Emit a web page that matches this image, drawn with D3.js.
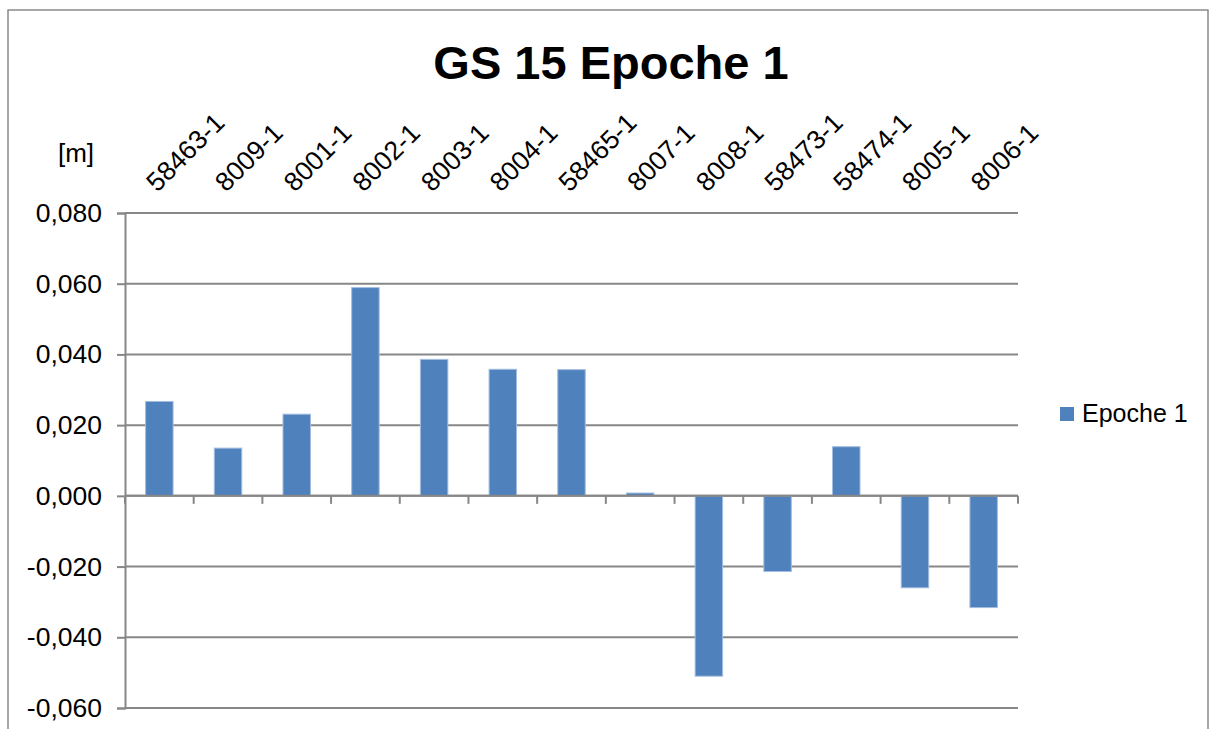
<!DOCTYPE html>
<html>
<head>
<meta charset="utf-8">
<script src="https://cdn.jsdelivr.net/npm/d3@7"></script>
<style>
  body { margin: 0; background: #fff; }
  svg { display: block; font-family: "Liberation Sans", Arial, sans-serif; }
</style>
</head>
<body>
<svg id="chart"></svg>
<script>
// chart data
const categories = ["58463-1", "8009-1", "8001-1", "8002-1", "8003-1", "8004-1", "58465-1",
    "8007-1", "8008-1", "58473-1", "58474-1", "8005-1", "8006-1"];
const epoche1 = [0.0267, 0.0135, 0.0231, 0.0589, 0.0386, 0.0358, 0.0357,
    0.0008, -0.0510, -0.0214, 0.0139, -0.0260, -0.0316];
const yTicks = [-0.06, -0.04, -0.02, 0, 0.02, 0.04, 0.06, 0.08];
const seriesName = "Epoche 1";
const title = "GS 15 Epoche 1";

const width = 1214;
const height = 729;
const barColor = "#4f81bd";
const gridColor = "#878787";

const svg = d3.select("#chart")
    .attr("width", width)
    .attr("height", height);

// outer chart border
svg.append("rect")
    .attr("x", 8).attr("y", 10)
    .attr("width", 1200).attr("height", 740)
    .attr("fill", "none")
    .attr("stroke", "#8a8a8a")
    .attr("stroke-width", 1.5);

const x = d3.scaleBand()
    .domain(categories)
    .range([125, 1018])
    .paddingInner(0.6)
    .paddingOuter(0.3);

const y = d3.scaleLinear()
    .domain([-0.06, 0.08])
    .range([708, 213]);

// german number format, plain hyphen as minus
const locale = d3.formatLocale({ decimal: ",", thousands: ".", grouping: [3], currency: ["", "€"], minus: "-" });
const fmt = locale.format(".3f");

// title
svg.append("text")
    .attr("x", 611).attr("y", 79)
    .attr("text-anchor", "middle")
    .attr("font-size", 47)
    .attr("font-weight", "bold")
    .text(title);

// unit label
svg.append("text")
    .attr("x", 76).attr("y", 162)
    .attr("text-anchor", "middle")
    .attr("font-size", 26)
    .text("[m]");

// gridlines
svg.append("g")
    .selectAll("line")
    .data(yTicks)
    .enter()
    .append("line")
    .attr("x1", 125).attr("x2", 1018)
    .attr("y1", d => y(d)).attr("y2", d => y(d))
    .attr("stroke", gridColor)
    .attr("stroke-width", 2);

// y axis
const yAxis = svg.append("g")
    .attr("transform", "translate(125,0)")
    .call(d3.axisLeft(y).tickValues(yTicks).tickFormat(fmt).tickSize(8).tickPadding(15));
yAxis.select(".domain").attr("stroke", gridColor).attr("stroke-width", 2);
yAxis.selectAll(".tick line").attr("stroke", gridColor).attr("stroke-width", 2);
yAxis.selectAll(".tick text")
    .attr("font-size", 26.5)
    .attr("font-family", "Liberation Sans, Arial, sans-serif")
    .attr("fill", "#000");

// bars
svg.append("g")
    .selectAll("rect")
    .data(epoche1)
    .enter()
    .append("rect")
    .attr("x", (d, i) => x(categories[i]))
    .attr("width", x.bandwidth())
    .attr("y", d => y(Math.max(0, d)))
    .attr("height", d => Math.abs(y(d) - y(0)))
    .attr("fill", barColor)
    .attr("stroke", "#a3bde0")
    .attr("stroke-width", 1);

// category axis at zero
const boundaries = d3.range(categories.length + 1).map(i => x.range()[0] + i * x.step());
svg.append("line")
    .attr("x1", 125).attr("x2", 1018)
    .attr("y1", y(0)).attr("y2", y(0))
    .attr("stroke", gridColor)
    .attr("stroke-width", 2);
svg.append("g")
    .selectAll("line")
    .data(boundaries)
    .enter()
    .append("line")
    .attr("x1", d => d).attr("x2", d => d)
    .attr("y1", y(0)).attr("y2", y(0) + 8)
    .attr("stroke", gridColor)
    .attr("stroke-width", 2);

// category labels, rotated, above the plot
svg.append("g")
    .selectAll("text")
    .data(categories)
    .enter()
    .append("text")
    .attr("transform", d => `translate(${x(d) + x.bandwidth() / 2 - 2},193) rotate(-45)`)
    .attr("font-size", 26.5)
    .text(d => d);

// legend
const legend = svg.append("g").attr("transform", "translate(1060,407)");
legend.append("rect")
    .attr("width", 14).attr("height", 14)
    .attr("fill", barColor);
legend.append("text")
    .attr("x", 22).attr("y", 15)
    .attr("font-size", 25)
    .text(seriesName);
</script>
</body>
</html>
